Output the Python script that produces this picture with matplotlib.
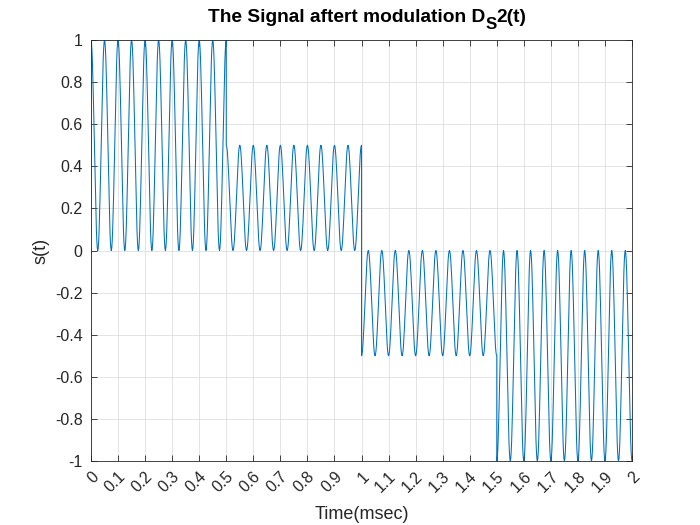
import numpy as np
import matplotlib
matplotlib.use("Agg")
import matplotlib.pyplot as plt
from matplotlib.transforms import ScaledTranslation

# ---- data ----
segment_starts = [0.0, 0.5, 1.0, 1.5]      # msec
segment_ends = [0.5, 1.0, 1.5, 2.0]        # msec
amplitudes = [1.0, 0.5, -0.5, -1.0]        # symbol levels
carrier_freq = 20.0                         # cycles per msec
samples_per_cycle = 30
x_ticks = [round(0.1 * i, 1) for i in range(21)]
x_tick_labels = ['0', '0.1', '0.2', '0.3', '0.4', '0.5', '0.6', '0.7', '0.8', '0.9',
                 '1', '1.1', '1.2', '1.3', '1.4', '1.5', '1.6', '1.7', '1.8', '1.9', '2']
y_ticks = [-1, -0.8, -0.6, -0.4, -0.2, 0, 0.2, 0.4, 0.6, 0.8, 1]
y_tick_labels = ['-1', '-0.8', '-0.6', '-0.4', '-0.2', '0', '0.2', '0.4', '0.6', '0.8', '1']
title_main = 'The Signal aftert modulation D'
title_sub = 'S'
title_tail = '2(t)'

# build the waveform from the segment levels
dt = 1.0 / (carrier_freq * samples_per_cycle)
t_parts, s_parts = [], []
for t0, t1, a in zip(segment_starts, segment_ends, amplitudes):
    tt = np.arange(t0, t1 + dt / 2, dt)
    t_parts.append(tt)
    s_parts.append(a * (1 + np.cos(2 * np.pi * carrier_freq * tt)) / 2)
t = np.concatenate(t_parts)
s = np.concatenate(s_parts)

# ---- style ----
plt.rcParams['font.family'] = ['Liberation Sans', 'DejaVu Sans']

W, H = 700, 525
fig = plt.figure(figsize=(7, 5.25), dpi=100)
ax = fig.add_axes([0.13, 0.1219, 0.7729, 0.8019])

ax.plot(t, s, color='#0072BD', linewidth=0.75)

ax.set_xlim(0, 2)
ax.set_ylim(-1, 1)
ax.set_xticks(x_ticks)
ax.set_xticklabels(x_tick_labels, rotation=45, ha='right', va='center',
                   rotation_mode='anchor')
ax.set_yticks(y_ticks)
ax.set_yticklabels(y_tick_labels)

ax.grid(True, color='#dedede', linewidth=0.6)
ax.set_axisbelow(True)
ax.tick_params(direction='in', length=4, width=0.6, colors='#262626',
               labelsize=11.5, top=True, right=True, pad=6)
ax.tick_params(axis='x', pad=9.5)
shift = ScaledTranslation(5 / 100, 0, fig.dpi_scale_trans)
for lbl in ax.get_xticklabels():
    lbl.set_transform(lbl.get_transform() + shift)
for sp in ax.spines.values():
    sp.set_color('#262626')
    sp.set_linewidth(0.6)

ax.set_xlabel('Time(msec)', fontsize=13, color='#262626', labelpad=8)
ax.set_ylabel('s(t)', fontsize=13, color='#262626', labelpad=4)

# title with a large lowered subscript (built from three pieces)
fig.canvas.draw()
renderer = fig.canvas.get_renderer()
fs_main, fs_sub = 13.8, 12.2
pieces = []
for txt, fs in [(title_main, fs_main), (title_sub, fs_sub), (title_tail, fs_main)]:
    tmp = fig.text(0, 0, txt, fontsize=fs, fontweight='bold')
    w = tmp.get_window_extent(renderer).width
    tmp.remove()
    pieces.append((txt, fs, w))
total = sum(p[2] for p in pieces)
axbox = ax.get_window_extent(renderer)
cx = (axbox.x0 + axbox.x1) / 2 + 6
x = cx - total / 2
base_main = H - 22.5
base_sub = H - 29
for i, (txt, fs, w) in enumerate(pieces):
    yb = base_sub if i == 1 else base_main
    fig.text(x / W, yb / H, txt, fontsize=fs, fontweight='bold', color='black',
             ha='left', va='baseline')
    x += w

fig.savefig('out.png', dpi=100)
